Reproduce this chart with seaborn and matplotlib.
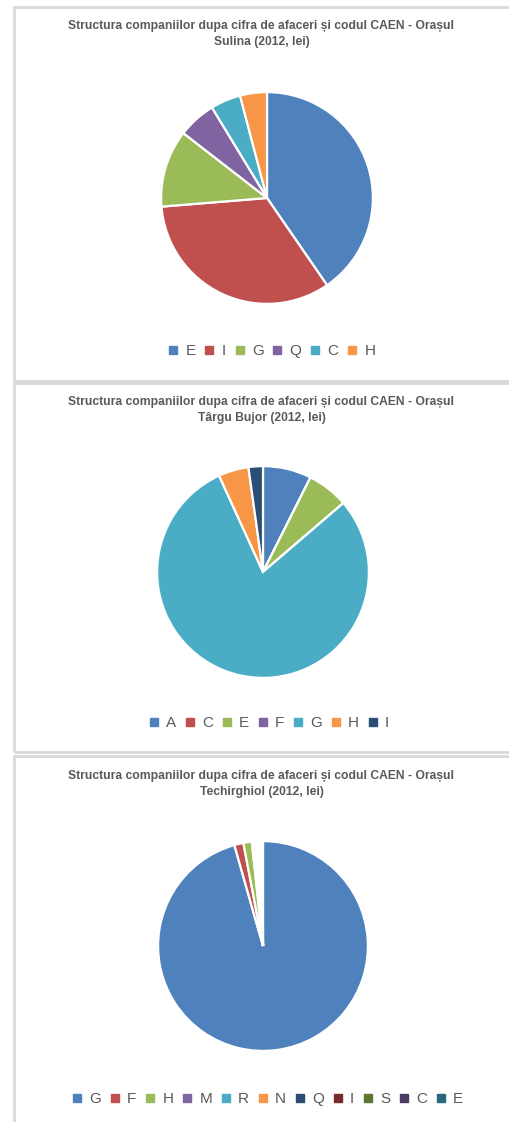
import matplotlib
matplotlib.use("Agg")
import matplotlib.pyplot as plt
import seaborn as sns
from matplotlib.lines import Line2D
from matplotlib.patches import Rectangle

sns.set_theme(style="white")
plt.rcParams['font.family'] = ['Liberation Sans Narrow', 'Liberation Sans', 'DejaVu Sans']

# ---- data ----
title_prefix = "Structura companiilor dupa cifra de afaceri și codul CAEN - Orașul"

sulina_cats = ["E", "I", "G", "Q", "C", "H"]
sulina_vals = [40.4, 33.3, 11.8, 5.8, 4.6, 4.1]

bujor_cats = ["A", "C", "E", "F", "G", "H", "I"]
bujor_vals = [7.4, 0.0, 6.3, 0.0, 79.4, 4.6, 2.2]

techir_cats = ["G", "F", "H", "M", "R", "N", "Q", "I", "S", "C", "E"]
techir_vals = [95.6, 1.4, 1.3, 0.3, 0.3, 0.2, 0.2, 0.2, 0.2, 0.2, 0.1]

towns = ["Sulina", "Târgu Bujor", "Techirghiol"]

excel_colors = ["#4F81BD", "#C0504D", "#9BBB59", "#8064A2", "#4BACC6", "#F79646",
                "#2C4D75", "#772C2A", "#5F7530", "#4D3B62", "#276A7C"]

W, H = 509, 1122
fig = plt.figure(figsize=(W / 100, H / 100), dpi=100)
fig.patch.set_facecolor("white")

# panel frames (pixel layout)
frames = [(7, 381), (383, 752), (756, 1130)]
for top, bot in frames:
    fig.add_artist(Rectangle((14 / W, 1 - bot / H), (W + 10 - 14) / W, (bot - top) / H,
                             transform=fig.transFigure, fill=False,
                             edgecolor="#D9D9D9", linewidth=2.0))

panels = [
    dict(cats=sulina_cats, vals=sulina_vals, town=towns[0], c=(267, 198), R=108,
         t1=26, t2=42, ly=351, lx=272),
    dict(cats=bujor_cats, vals=bujor_vals, town=towns[1], c=(263, 572), R=108,
         t1=402, t2=418, ly=723, lx=269),
    dict(cats=techir_cats, vals=techir_vals, town=towns[2], c=(263, 946), R=107,
         t1=776, t2=792, ly=1099, lx=268),
]

for p in panels:
    cx, cy = p["c"]
    R = p["R"]
    ax = fig.add_axes([(cx - R) / W, 1 - (cy + R) / H, 2 * R / W, 2 * R / H])
    cols = excel_colors[:len(p["cats"])]
    ax.pie(p["vals"], colors=cols, startangle=90, counterclock=False, radius=1,
           wedgeprops=dict(edgecolor="white", linewidth=1.6))
    ax.set_xlim(-1.02, 1.02)
    ax.set_ylim(-1.02, 1.02)
    ax.set_axis_off()

    fig.text(0.5 * (14 + W) / W, 1 - p["t1"] / H, title_prefix,
             ha="center", va="center", fontsize=8.7, fontweight="bold", color="#595959")
    fig.text(0.5 * (14 + W) / W, 1 - p["t2"] / H, f"{p['town']} (2012, lei)",
             ha="center", va="center", fontsize=8.7, fontweight="bold", color="#595959")

    handles = [Line2D([], [], marker="s", linestyle="", markersize=5.5,
                      markerfacecolor=c, markeredgecolor=c) for c in cols]
    fig.legend(handles, p["cats"], loc="center", bbox_to_anchor=(p["lx"] / W, 1 - p["ly"] / H),
               ncol=len(p["cats"]), frameon=False, handlelength=0.6, handletextpad=0.5,
               columnspacing=0.6, prop={"family": ["Liberation Sans", "DejaVu Sans"], "size": 11},
               labelcolor="#595959")

fig.savefig("out.png", dpi=100, facecolor="white")
